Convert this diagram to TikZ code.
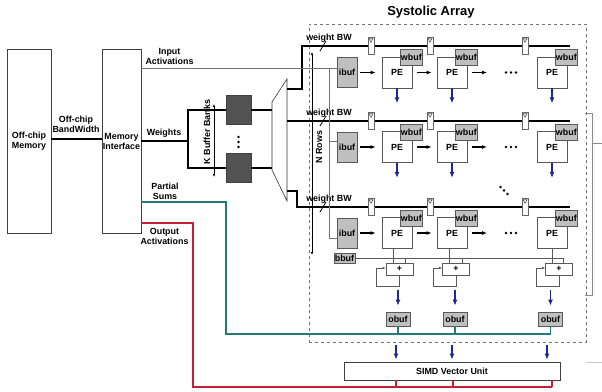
\documentclass[tikz,border=0pt]{standalone}
\usepackage{fontspec}
\setmainfont{Liberation Sans}
\usetikzlibrary{arrows.meta, positioning, calc}

\definecolor{navyarrow}{RGB}{28,40,150}
\definecolor{psumteal}{RGB}{38,122,122}
\definecolor{oactred}{RGB}{196,32,52}

\tikzset{
  lbl/.style={font=\bfseries\fontsize{8.9}{10}\selectfont, align=center, inner sep=0pt},
  blk/.style={draw=black!75, fill=white, line width=0.7pt, inner sep=0pt, lbl},
  pebox/.style={draw=black!65, fill=white, line width=0.7pt, minimum width=30pt, minimum height=31pt, inner sep=0pt, lbl},
  bufbox/.style={draw=black!65, fill=black!25, line width=0.7pt, inner sep=0pt, lbl},
  bank/.style={draw=black!75, fill=black!68, line width=0.7pt, minimum width=25pt, minimum height=29pt},
  regbox/.style={draw=black!60, fill=white, line width=0.6pt, minimum width=6pt, minimum height=17pt, inner sep=0pt},
  addbox/.style={draw=black!65, fill=white, line width=0.6pt, minimum width=27pt, minimum height=12pt, inner sep=0pt, lbl},
  wire/.style={line width=1.3pt},
  wbus/.style={line width=1.5pt},
  feed/.style={draw=black!55, line width=0.9pt},
  lineg/.style={draw=black!65, line width=0.6pt},
  dim/.style={line width=0.6pt, {Latex[length=3pt,width=2.5pt]}-{Latex[length=3pt,width=2.5pt]}},
  flow/.style={-{Latex[length=5pt,width=4pt]}, line width=1.1pt},
  outarr/.style={-{Latex[length=6pt,width=5pt]}, draw=navyarrow, fill=navyarrow, line width=1.3pt},
  psum/.style={draw=psumteal, line width=1.1pt},
  oact/.style={draw=oactred, line width=1.1pt},
}

\begin{document}
\begin{tikzpicture}[x=1pt, y=-1pt]
\useasboundingbox (0,0) rectangle (602,391);

% memory side
\node[blk, minimum width=44pt, minimum height=184pt] (offmem) at (29,141) {Off-chip\\Memory};
\node[blk, minimum width=39pt, minimum height=184pt] (memif) at (121.5,141) {Memory\\Interface};
\draw[wire] ([yshift=2pt]offmem.east) -- ([yshift=2pt]memif.west);
\node[lbl] (offbwlbl) at (76,124) {Off-chip\\BandWidth};

\node[lbl] (ialbl) at (169.5,56.5) {Input\\Activations};
\node[lbl] (wlbl) at (164,133) {Weights};
\node[lbl] (pslbl) at (165,191) {Partial\\Sums};
\node[lbl] (oalbl) at (164.5,236) {Output\\Activations};

% systolic array frame
\node[draw=black!55, dashed, line width=0.7pt, minimum width=277pt, minimum height=318pt, inner sep=0pt] (sysarr) at (447.5,183) {};
\node[font=\bfseries\fontsize{13}{15}\selectfont, inner sep=0pt] (satitle) at (431,12) {Systolic Array};

% K buffer banks
\node[bank] (bankA) at (238.5,110) {};
\node[bank] (bankB) at (238.5,168) {};
\coordinate (ksplit) at (188,141);
\draw[wire] (memif.east |- ksplit) -- (ksplit);
\draw[wire] (bankA.west) -| (ksplit) |- (bankB.west);
\foreach \dy in {-5,0,5}
  \fill ($(bankA)!0.5!(bankB)+(0,\dy+3)$) circle (1.3pt);
\coordinate (ktop) at (214,104);
\coordinate (kbot) at (214,177);
\draw[dim] (ktop) -- (kbot);
\node[lbl, rotate=90] (klbl) at (207,132) {K Buffer Banks};

% mux
\coordinate (muxA) at (272,102);
\coordinate (muxB) at (287,79);
\coordinate (muxC) at (287,201);
\coordinate (muxD) at (272,170);
\draw[lineg, draw=black!80] (muxA) -- (muxB) -- (muxC) -- (muxD) -- cycle;
\draw[wire] (bankA.east) -- (bankA.east -| muxA);
\draw[wire] (bankB.east) -- (bankB.east -| muxA);

% weight buses
\coordinate (wbusA) at (570,46);
\coordinate (wbusB) at (570,121);
\coordinate (wbusC) at (570,207);
\draw[wbus] (muxB |- 0,89) -- ++(15,0) |- (wbusA);
\draw[wbus] (muxB |- wbusB) -- (wbusB);
\draw[wbus] (muxB |- 0,191) -- ++(10,0) |- (wbusC);
\foreach \bw/\w in {A/46,B/121,C/207} {
  \coordinate (bw\bw) at (323,\w);
  \draw[line width=0.8pt] ([xshift=-3pt,yshift=-5pt]bw\bw) -- ([xshift=3pt,yshift=5pt]bw\bw);
  \node[lbl] (bwlbl\bw) at (329,\w-8) {weight BW};
}

% N rows
\coordinate (ntop) at (312,52);
\coordinate (nbot) at (312,255);
\draw[dim] (ntop) -- (nbot);
\node[lbl, rotate=90] (nlbl) at (319,147) {N Rows};

% PE rows
\foreach \r/\w/\py in {1/46/72.5,2/121/147,3/207/233} {
  \node[bufbox, minimum width=20pt, minimum height=30pt] (ibuf\r) at (347,\py) {ibuf};
  \foreach \c/\px/\rx in {1/397/371,2/452/430,3/552/525} {
    \node[regbox] (reg\r\c) at (\rx,\w) {};
    \draw[lineg] ([xshift=-2pt,yshift=-1.5pt]reg\r\c.north) -- ([xshift=2pt,yshift=-1.5pt]reg\r\c.north) -- ([yshift=-5pt]reg\r\c.north) -- cycle;
    \node[pebox] (pe\r\c) at (\px,\py) {PE};
    \node[bufbox, minimum width=22pt, minimum height=16pt] (wbuf\r\c) at ([xshift=-1pt,yshift=-1pt]pe\r\c.north east) {wbuf};
  }
  \coordinate (hdots\r) at (511,\py);
  \draw[flow] ([xshift=3pt]ibuf\r.east) -- ([xshift=-6pt]pe\r1.west);
  \draw[flow] ([xshift=5pt]pe\r1.east) -- ([xshift=-5pt]pe\r2.west);
  \draw[flow] ([xshift=5pt]pe\r2.east) -- ([xshift=-24pt]hdots\r);
  \foreach \dx in {-5,0,5}
    \fill ($(hdots\r)+(\dx,0)$) circle (1.3pt);
}
\foreach \r in {1,2}
  \foreach \c in {1,2,3}
    \draw[outarr] (pe\r\c.south) -- ++(0,15);
\coordinate (ddots) at (504,190.5);
\foreach \d in {-3.5,0,3.5}
  \fill ($(ddots)+(\d,\d)$) circle (1.3pt);

% input activations feed
\coordinate (iasplit) at (329,68);
\draw[feed] (memif.east |- iasplit) -- (iasplit -| ibuf1.west);
\draw[feed] (iasplit) |- (ibuf3.west |- 0,238);
\draw[feed] (iasplit |- 0,141) -- (ibuf2.west |- 0,141);

% accumulation
\node[bufbox, minimum width=21pt, minimum height=10pt] (bbuf) at (344.5,258) {bbuf};
\draw[lineg] (bbuf.east) -- (bbuf.east -| 563,0);
\foreach \c/\ax/\ox/\lx/\bx in {1/399.5/398/393/405, 2/456/455/449/462, 3/559/550.5/552/563} {
  \node[addbox] (add\c) at (\ax,269) {+};
  \node[bufbox, minimum width=24pt, minimum height=14pt] (obuf\c) at (\ox,319) {obuf};
  \draw[lineg] (pe3\c.south -| \lx,0) -- (add\c.north -| \lx,0);
  \draw[lineg] (bbuf.east -| \bx,0) -- (add\c.north -| \bx,0);
  \draw[lineg, -{Latex[length=3pt,width=2.5pt]}] (add\c.south) -- ++(0,11) -| ([xshift=-9pt,yshift=1pt]add\c.west) -- ([yshift=1pt]add\c.west);
  \draw[outarr] ([yshift=22pt]obuf\c.north) -- ([yshift=6pt]obuf\c.north);
}

% partial sums
\coordinate (psbend) at (226,202);
\draw[psum] (memif.east |- psbend) -- (psbend) |- (obuf3.south |- 0,334);
\foreach \c in {1,2,3}
  \draw[psum] (obuf\c.south) -- (obuf\c.south |- 0,334);

% SIMD unit
\node[blk, minimum width=216pt, minimum height=18pt] (simd) at (452,371) {SIMD Vector Unit};
\foreach \sx in {396,452,547}
  \draw[outarr, shorten <=3pt, shorten >=2pt] (sysarr.south -| \sx,0) -- (simd.north -| \sx,0);

% output activations
\coordinate (oabend) at (193,223);
\coordinate (oaend) at (552,387);
\draw[oact] (memif.east |- oabend) -- (oabend) |- (oaend);
\foreach \sx in {396,453,552}
  \draw[oact] (simd.south -| \sx,0) -- (oaend -| \sx,0);

% right edge
\draw[draw=black!45, line width=0.7pt] (585,113) -| (592,295) -- (585,295);
\draw[draw=black!45, line width=0.7pt] (592,143) -- (602,143);
\draw[draw=black!20, line width=0.8pt] (586,362) -- (602,362);
\end{tikzpicture}
\end{document}
